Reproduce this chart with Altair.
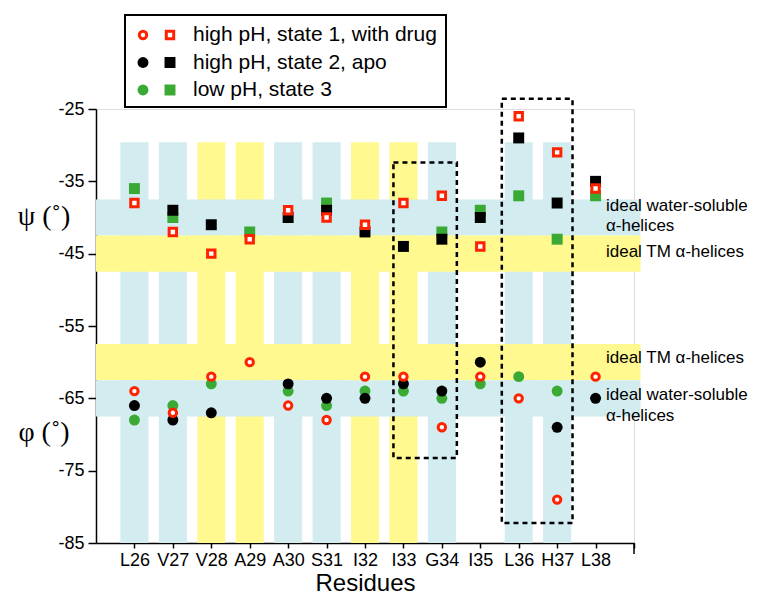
import altair as alt
import pandas as pd

# ---------------- data ----------------
residues = ["L26", "V27", "V28", "A29", "A30", "S31", "I32", "I33", "G34", "I35", "L36", "H37", "L38"]
res_num = [26, 27, 28, 29, 30, 31, 32, 33, 34, 35, 36, 37, 38]
column_band = ["blue", "blue", "yellow", "yellow", "blue", "blue", "yellow", "yellow", "blue", None, "blue", "blue", None]

# psi (squares) and phi (circles), degrees
psi_state1 = [-38, -42, -45, -43, -39, -40, -41, -38, -37, -44, -26, -31, -36]
psi_state2 = [None, -39, -41, None, -40, -39, -42, -44, -43, -40, -29, -38, -35]
psi_state3 = [-36, -40, None, -42, None, -38, None, None, -42, -39, -37, -43, -37]
phi_state1 = [-64, -67, -62, -60, -66, -68, -62, -62, -69, -62, -65, -79, -62]
phi_state2 = [-66, -68, -67, None, -63, -65, -65, -63, -64, -60, None, -69, -65]
phi_state3 = [-68, -66, -63, None, -64, -66, -64, -64, -65, -63, -62, -64, None]

# horizontal reference bands
hband_top = [-37.5, -42.5, -57.5, -62.5]
hband_bottom = [-42.5, -47.5, -62.5, -67.5]
hband_color = ["blue", "yellow", "yellow", "blue"]

# annotation lines
note_text = ["ideal water-soluble", "α-helices", "ideal TM α-helices",
             "ideal TM α-helices", "ideal water-soluble", "α-helices"]
note_y = [-38.4, -41.2, -44.8, -59.4, -64.6, -67.4]

# dashed highlight boxes
box_x0 = [32.74, 35.56]
box_x1 = [34.39, 37.40]
box_y0 = [-32.4, -23.6]
box_y1 = [-73.25, -82.25]

legend_labels = ["high pH, state 1, with drug", "high pH, state 2, apo", "low pH, state 3"]

RED = "#FF2200"
BLACK = "#000000"
GREEN = "#3AAA35"
BLUE_BAND = "#D2ECF0"
YELLOW_BAND = "#FFF98F"
FONT = "Liberation Sans"

OPEN_SIZE = 55
DOT_SIZE = 120
SQ_SIZE = 120

# ---------------- scales ----------------
xscale = alt.Scale(domain=[25, 39], nice=False, zero=False)
yscale = alt.Scale(domain=[-85, -25], nice=False, zero=False)
band_scale = alt.Scale(domain=["blue", "yellow"], range=[BLUE_BAND, YELLOW_BAND])

label_arr = "[" + ",".join("'%s'" % r for r in residues) + "]"

x_axis = alt.Axis(
    values=res_num + [39],
    labelExpr=f"datum.value < 39 ? {label_arr}[datum.value - 26] : ''",
    title="Residues", titleFont=FONT, titleFontSize=24, titleFontWeight="normal",
    titlePadding=2, labelFont=FONT, labelFontSize=18, labelPadding=3,
    tickSize=5, tickColor="black", domainColor="black", domainWidth=1.5, tickWidth=1.5,
    grid=False, labelColor="black", titleColor="black",
)
y_axis = alt.Axis(
    values=[-85 + 2.5 * i for i in range(25)],
    labelExpr="(datum.value + 25) % 10 == 0 ? datum.value : ''",
    title=None, labelFont=FONT, labelFontSize=18, labelPadding=4,
    tickSize=8, tickColor="black", domainColor="black", domainWidth=1.5, tickWidth=1.5,
    grid=False, labelColor="black",
)

# ---------------- tables ----------------
vb = pd.DataFrame({"num": res_num, "band": column_band}).dropna()
vb["lo"] = vb["num"] - 0.365
vb["hi"] = vb["num"] + 0.365
vb["top"] = -29.6
vb["bot"] = -85.0

hb = pd.DataFrame({"top": hband_top, "bot": hband_bottom, "band": hband_color})
hb["x0"] = 25.0
hb["x1"] = 39.17

notes = pd.DataFrame({"text": note_text, "y": note_y})
notes["x"] = 38.27

boxes = pd.DataFrame({"x0": box_x0, "x1": box_x1, "y0": box_y0, "y1": box_y1})

vbands = alt.Chart(vb).mark_rect(strokeWidth=0).encode(
    x=alt.X("lo:Q", scale=xscale, axis=x_axis), x2="hi:Q",
    y=alt.Y("top:Q", scale=yscale, axis=y_axis), y2="bot:Q",
    color=alt.Color("band:N", scale=band_scale, legend=None),
)
hbands = alt.Chart(hb).mark_rect(strokeWidth=0).encode(
    x=alt.X("x0:Q", scale=xscale), x2="x1:Q",
    y=alt.Y("top:Q", scale=yscale), y2="bot:Q",
    color=alt.Color("band:N", scale=band_scale, legend=None),
)
note_layer = alt.Chart(notes).mark_text(
    align="left", baseline="middle", font=FONT, fontSize=17, color="black"
).encode(x=alt.X("x:Q", scale=xscale), y=alt.Y("y:Q", scale=yscale), text="text:N")

box_layer = alt.Chart(boxes).mark_rect(
    fill=None, filled=False, stroke="black", strokeWidth=2.5, strokeDash=[5, 4]
).encode(x=alt.X("x0:Q", scale=xscale), x2="x1:Q",
         y=alt.Y("y0:Q", scale=yscale), y2="y1:Q")

end_tick = alt.Chart(pd.DataFrame({"x": [39]})).mark_rule(color="black", strokeWidth=1.5).encode(
    x=alt.X("x:Q", scale=xscale), y=alt.value(434), y2=alt.value(445)
)


def marker(chart, shape, color, open_marker):
    if open_marker:
        return chart.mark_point(shape=shape, filled=True, fill="white", stroke=color,
                                strokeWidth=3, size=OPEN_SIZE, opacity=1)
    return chart.mark_point(shape=shape, filled=True, fill=color, strokeWidth=0,
                            size=SQ_SIZE if shape == "square" else DOT_SIZE, opacity=1)


def series_layer(values, shape, color, open_marker):
    df = pd.DataFrame({"num": res_num, "v": values}).dropna()
    return marker(alt.Chart(df), shape, color, open_marker).encode(
        x=alt.X("num:Q", scale=xscale), y=alt.Y("v:Q", scale=yscale))


points = [
    series_layer(phi_state3, "circle", GREEN, False),
    series_layer(psi_state3, "square", GREEN, False),
    series_layer(phi_state2, "circle", BLACK, False),
    series_layer(psi_state2, "square", BLACK, False),
    series_layer(phi_state1, "circle", RED, True),
    series_layer(psi_state1, "square", RED, True),
]

# ---------------- side labels ----------------
one = pd.DataFrame({"k": [0]})
side_labels = [
    alt.Chart(one).mark_text(font="Liberation Serif", fontSize=28, align="center",
                             baseline="middle", color="black").encode(
        x=alt.value(-52), y=alt.value(yy), text=alt.value(tt))
    for tt, yy in [("ψ (˚)", 108), ("φ (˚)", 324)]
]

# ---------------- legend ----------------
legend_layers = [
    alt.Chart(one).mark_rect(fill="white", stroke="black", strokeWidth=2).encode(
        x=alt.value(29), x2=alt.value(350), y=alt.value(-94), y2=alt.value(-2))
]
leg_colors = [RED, BLACK, GREEN]
for i, (lab, col) in enumerate(zip(legend_labels, leg_colors)):
    yy = -74 + i * 27.5
    for shp, xx in [("circle", 47), ("square", 74)]:
        legend_layers.append(
            marker(alt.Chart(one), shp, col, i == 0).encode(x=alt.value(xx), y=alt.value(yy)))
    legend_layers.append(
        alt.Chart(one).mark_text(font=FONT, fontSize=21, align="left", baseline="middle",
                                 color="black").encode(
            x=alt.value(97), y=alt.value(yy), text=alt.value(lab))
    )

chart = alt.layer(
    vbands, hbands, note_layer, box_layer, end_tick, *points, *side_labels, *legend_layers
).properties(
    width=538, height=434,
    autosize=alt.AutoSizeParams(type="none"),
    padding={"left": 96, "top": 109, "right": 128, "bottom": 55},
).configure_view(strokeOpacity=0).configure(background="white")

chart.save("out.html", embed_options={"renderer": "svg", "actions": False})
